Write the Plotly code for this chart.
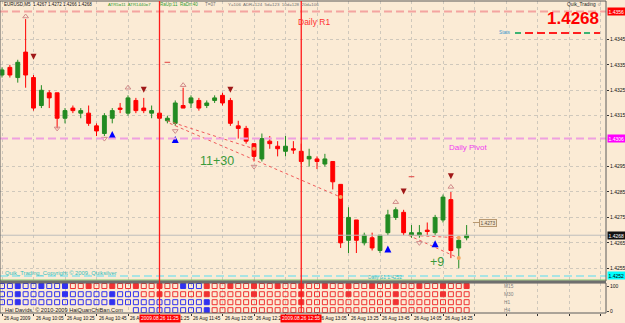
import plotly.graph_objects as go

# ---------------- data ----------------
bar_index = list(range(60))
opens = [1.4331, 1.4334, 1.4330, 1.4340, 1.4330, 1.4319, 1.4324, 1.4324, 1.4314, 1.4318,
         1.4316, 1.4316, 1.4311, 1.4308, 1.4314, 1.43180, 1.4316, 1.4321, 1.4318, 1.4316,
         1.4316, 1.4313, 1.4312, 1.4319, 1.4320, 1.4321, 1.4319, 1.4321, 1.4323, 1.4321,
         1.4311, 1.4310, 1.4304, 1.4298, 1.4305, 1.4303, 1.4301, 1.43020, 1.4301, 1.4298,
         1.4298, 1.4296, 1.4297, 1.4288, 1.4266, 1.4274, 1.4265, 1.4267, 1.4262, 1.4269,
         1.4275, 1.4277, 1.4268, 1.4268, 1.42700, 1.4269, 1.4274, 1.4282, 1.4263, 1.4267]
highs = [1.4334, 1.4335, 1.4337, 1.4353, 1.4331, 1.4327, 1.4325, 1.4324, 1.4318, 1.4319,
         1.4318, 1.4319, 1.4312, 1.4316, 1.4318, 1.4320, 1.4323, 1.4322, 1.4322, 1.4319,
         1.4317, 1.4315, 1.4321, 1.4326, 1.4323, 1.4322, 1.4321, 1.4323, 1.4324, 1.4322,
         1.4313, 1.4311, 1.4304, 1.4308, 1.4307, 1.4305, 1.4307, 1.4305, 1.4304, 1.4302,
         1.4299, 1.4300, 1.4297, 1.4288, 1.4279, 1.4274, 1.4269, 1.4269, 1.4268, 1.4278,
         1.4279, 1.4278, 1.4272, 1.4272, 1.4273, 1.4276, 1.4284, 1.4285, 1.4267, 1.4272]
lows = [1.4330, 1.4330, 1.4328, 1.4326, 1.4317, 1.4318, 1.4318, 1.4310, 1.4312, 1.4316,
        1.4314, 1.4311, 1.4307, 1.4307, 1.4312, 1.4316, 1.4315, 1.4316, 1.4316, 1.4314,
        1.4313, 1.4312, 1.4311, 1.4318, 1.4318, 1.4317, 1.4318, 1.4320, 1.4319, 1.4311,
        1.4306, 1.4304, 1.4297, 1.4297, 1.4302, 1.4299, 1.4299, 1.4300, 1.4296, 1.4295,
        1.4294, 1.4295, 1.4286, 1.4263, 1.4261, 1.4261, 1.4264, 1.4262, 1.4261, 1.4268,
        1.4274, 1.4268, 1.4267, 1.4267, 1.4268, 1.4268, 1.4273, 1.4259, 1.4255, 1.4266]
closes = [1.4333, 1.4331, 1.4336, 1.4331, 1.4318, 1.4325, 1.4322, 1.4314, 1.4317, 1.4317,
          1.4317, 1.4312, 1.4309, 1.4315, 1.4317, 1.43175, 1.4322, 1.4317, 1.4317, 1.4317,
          1.4314, 1.4314, 1.4320, 1.4318, 1.4322, 1.4318, 1.4320, 1.4322, 1.4320, 1.4312,
          1.4310, 1.4305, 1.4299, 1.4306, 1.4304, 1.4302, 1.4303, 1.43015, 1.4297, 1.4299,
          1.4297, 1.4298, 1.4289, 1.4265, 1.4275, 1.4266, 1.4268, 1.4263, 1.4268, 1.4276,
          1.4278, 1.4269, 1.4269, 1.4269, 1.42695, 1.4275, 1.4283, 1.4262, 1.4266, 1.4268]

time_label_bars = [0, 4, 8, 12, 16, 20, 24, 28, 32, 40, 44, 48, 52, 56]
time_labels = ["26 Aug 2009", "26 Aug 10:05", "26 Aug 10:25", "26 Aug 10:45", "26 Aug 11:05",
               "26 Aug 11:25", "26 Aug 11:45", "26 Aug 12:05", "26 Aug 12:25",
               "26 Aug 13:05", "26 Aug 13:25", "26 Aug 13:45", "26 Aug 14:05", "26 Aug 14:25"]
price_ticks = [1.4345, 1.4335, 1.4325, 1.4315, 1.4295, 1.4285, 1.4275, 1.4265, 1.4255]

vline_bars = [20, 38]
vline_labels = ["2009.08.26 11:25", "2009.08.26 12:55"]

daily_r1 = 1.4356
daily_pivot = 1.4306
daily_s_line = 1.4252
bid = 1.4268
price_label_bar = 60.6
price_label_px = 1.4273

fractal_up_bars = [3, 16, 23, 50, 57]
fractal_up_px = [1.4354, 1.4326, 1.4327, 1.4281, 1.4287]
sell_bars = [4, 18, 29, 51, 57]
sell_px = [1.4337, 1.4324, 1.4324, 1.4284, 1.4290]
fractal_dn_bars = [7, 13, 22, 32, 53]
fractal_dn_px = [1.4310, 1.4306, 1.4309, 1.4295, 1.4265]
buy_bars = [14, 22, 49, 55]
buy_px = [1.4309, 1.4307, 1.4264, 1.4266]
dash_bars = [21, 52]
dash_px = [1.4336, 1.4291]

trend_lines = [  # (bar0, price0, bar1, price1)
    (21, 1.4313, 32, 1.4302),
    (21.3, 1.4312, 43, 1.4283),
    (51.6, 1.4268, 58, 1.4267),
    (51.6, 1.4268, 58, 1.4259),
]
trade_labels = ["11+30", "+9"]
trade_label_bars = [27.3, 55.2]
trade_label_px = [1.42972, 1.42575]

# MTF square indicator (M15, M30, H1, H4)
mtf_names = ["M15", "M30", "H1", "H4"]
mtf_colors = [
    "BBBBBBBBBRRRRRRRRRRRRRRBBBRRRRRRRRRRRRRRRRRRRRRRRRRRRRRRRRRR",
    "BBBBBBBBBBBBBBBBBBRRRRRRRRRRRRRRRRRRRRRRRRRRRRRRRRRRRRRRRRRR",
    "BBBBBBBBBBBBBBBBBBBBBBBBBBBRRRRRRRRRRRRRRRRRRRRRRRRRRRRRRRRR",
    "BBBBBBBBBBBBBBBBBBBBBBBBBBBRRRRRRRRRRRRRRRRRRRRRRRRRRRRRRRRR",
]
mtf_filled = [
    [2, 5, 8, 11, 14, 17, 20, 23, 26, 29, 32, 35, 38, 41, 44, 47, 50, 53, 56, 59],
    [2, 8, 14, 20, 26, 32, 38, 44, 50, 56],
    [2, 14, 26, 38, 50],
    [26],
]
mtf_first_bar = [0, 0, 0, 17]

# ---------------- figure ----------------
W, H = 625, 323
ML, MR, MT, MB = 0, 19, 1, 10
PW, PH = W - ML - MR, H - MT - MB
BAR_PX = 7.875
X0 = 2.0
xr = [(0 - X0) / BAR_PX, (PW - X0) / BAR_PX]
MAIN_BOTTOM_PX = 281
IND_TOP_PX = 283


def pfy(ypx):  # pixel y -> paper y
    return (H - MB - ypx) / PH


def pfx(xpx):
    return xpx / PW


BG = "#FBEBD5"
GRID = "#CFC8BC"
FONT = "Liberation Sans, Arial, sans-serif"

fig = go.Figure()

fig.add_trace(go.Candlestick(
    x=bar_index, open=opens, high=highs, low=lows, close=closes,
    increasing=dict(line=dict(color="#228B22", width=1), fillcolor="#228B22"),
    decreasing=dict(line=dict(color="#FF0000", width=1), fillcolor="#FF0000"),
    whiskerwidth=0, showlegend=False, hoverinfo="skip", xaxis="x", yaxis="y"))

# trend lines
for (b0, p0, b1, p1) in trend_lines:
    fig.add_trace(go.Scatter(x=[b0, b1], y=[p0, p1], mode="lines",
                             line=dict(color="#F05A5A", width=1, dash="dot"),
                             showlegend=False, hoverinfo="skip"))
fig.add_trace(go.Scatter(x=[t[2] for t in trend_lines], y=[t[3] for t in trend_lines],
                         mode="markers", marker=dict(symbol="circle", size=4, color="#F2A860"),
                         showlegend=False, hoverinfo="skip"))

# signal markers
fig.add_trace(go.Scatter(x=fractal_up_bars, y=fractal_up_px, mode="markers",
                         marker=dict(symbol="triangle-up-open", size=5, color="#D08A8A", line=dict(width=1)),
                         showlegend=False, hoverinfo="skip"))
fig.add_trace(go.Scatter(x=fractal_dn_bars, y=fractal_dn_px, mode="markers",
                         marker=dict(symbol="triangle-down-open", size=5, color="#D08A8A", line=dict(width=1)),
                         showlegend=False, hoverinfo="skip"))
fig.add_trace(go.Scatter(x=sell_bars, y=sell_px, mode="markers",
                         marker=dict(symbol="arrow-down", size=6, color="#A01818"),
                         showlegend=False, hoverinfo="skip"))
fig.add_trace(go.Scatter(x=buy_bars, y=buy_px, mode="markers",
                         marker=dict(symbol="arrow-up", size=7, color="#0000FF"),
                         showlegend=False, hoverinfo="skip"))
fig.add_trace(go.Scatter(x=dash_bars, y=dash_px, mode="markers",
                         marker=dict(symbol="line-ew", size=4, line=dict(color="#E04040", width=1)),
                         showlegend=False, hoverinfo="skip"))
# price label leader line
fig.add_trace(go.Scatter(x=[price_label_bar - 0.8, price_label_bar], y=[price_label_px, price_label_px],
                         mode="lines", line=dict(color="#B89870", width=1),
                         showlegend=False, hoverinfo="skip"))

# MTF squares
ind_rows = [100, 68, 37, 6]
for r in range(4):
    xs, ys, cols, syms = [], [], [], []
    for b in bar_index:
        if b < mtf_first_bar[r]:
            continue
        xs.append(b)
        ys.append(ind_rows[r])
        cols.append("#3232F0" if mtf_colors[r][b] == "B" else "#F03232")
        syms.append("square" if b in mtf_filled[r] else "square-open")
    fig.add_trace(go.Scatter(x=xs, y=ys, mode="markers", xaxis="x", yaxis="y2",
                             marker=dict(symbol=syms, size=5, color=cols, line=dict(width=1, color=cols)),
                             showlegend=False, hoverinfo="skip"))

shapes = []
# horizontal level lines
shapes.append(dict(type="line", xref="paper", x0=0, x1=1, yref="y", y0=daily_r1, y1=daily_r1,
                   line=dict(color="#F4A4A0", width=2, dash="8px,4px")))
shapes.append(dict(type="line", xref="paper", x0=0, x1=1, yref="y", y0=daily_pivot, y1=daily_pivot,
                   line=dict(color="#EFA0E0", width=2, dash="8px,4px")))
shapes.append(dict(type="line", xref="paper", x0=0, x1=1, yref="y", y0=bid, y1=bid,
                   line=dict(color="#BDBDBD", width=1)))
shapes.append(dict(type="line", xref="paper", x0=0, x1=1, yref="y", y0=daily_s_line, y1=daily_s_line,
                   line=dict(color="#A8E4E4", width=2, dash="8px,4px")))
shapes.append(dict(type="line", xref="paper", x0=0, x1=1, yref="paper", y0=pfy(280), y1=pfy(280),
                   line=dict(color="#7CCB6C", width=1)))
# frames
shapes.append(dict(type="rect", xref="paper", yref="paper", x0=0, x1=1, y0=pfy(MAIN_BOTTOM_PX), y1=1,
                   line=dict(color="#5A5A5A", width=1), fillcolor="rgba(0,0,0,0)"))
shapes.append(dict(type="rect", xref="paper", yref="paper", x0=0, x1=1, y0=0, y1=pfy(IND_TOP_PX),
                   line=dict(color="#5A5A5A", width=1), fillcolor="rgba(0,0,0,0)"))
shapes.append(dict(type="line", xref="paper", yref="paper", x0=0, x1=1, y0=pfy(282), y1=pfy(282),
                   line=dict(color="#6E6E6E", width=2)))
# vertical red lines (drawn last, on top)
for b in vline_bars:
    shapes.append(dict(type="line", xref="x", x0=b, x1=b, yref="paper", y0=0, y1=1,
                       line=dict(color="#FF1A1A", width=1.3)))
# Stats legend dashes
stats_dashes = [(515, 521, "#3CB371"), (525, 533, "#FF2020"), (537, 545, "#FF2020"), (549, 557, "#FF2020"),
                (561, 569, "#FF2020"), (573, 581, "#FF2020"), (584, 590, "#3CB371"), (594, 600, "#FF2020")]
for (a, b, c) in stats_dashes:
    shapes.append(dict(type="line", xref="paper", yref="paper", x0=pfx(a), x1=pfx(b), y0=pfy(33), y1=pfy(33),
                       line=dict(color=c, width=2)))

ann = []


def txt(xpx, ypx, text, size, color, anchor="left", bold=False):
    ann.append(dict(xref="paper", yref="paper", x=pfx(xpx), y=pfy(ypx), text=("<b>%s</b>" % text) if bold else text,
                    showarrow=False, xanchor=anchor, yanchor="middle",
                    font=dict(family=FONT, size=size, color=color)))


i = len(closes) - 1
txt(2, 5, "EURUSD,M5  %.4f %.4f %.4f %.4f" % (opens[i], highs[i], lows[i], closes[i]), 4.5, "#111111")
txt(106, 5, "ATR5=11  ATR1440=7", 4.3, "#2E9B2E")
txt(158, 5, "RaUp:11  RaDn:40", 4.5, "#2E9B2E")
txt(203, 5, "T=07", 4.5, "#707070")
txt(226, 5, "Y=106  ADR=124  5d=123  10d=128  20d=106", 4.4, "#707070")
txt(604, 5, "Quik_Trading ☺", 4.8, "#222222", anchor="right")
txt(601, 18, "%.4f" % closes[i], 17, "#FF0000", anchor="right", bold=True)
txt(513, 33, "Stats", 4.8, "#3A9AD0", anchor="right")
txt(3, 273, "Quik_Trading_Copyright © 2009, Quiksilver", 5.8, "#33BDBD")
txt(366, 277, "Daily S1 1.4252", 4.8, "#33BDBD")
txt(3, 310, "Hai Davids, © 2010-2009 HaiQuanChiBan.Com", 5.6, "#222222")

ann.append(dict(xref="x", yref="y", x=vline_bars[1] - 0.7, y=daily_r1, yshift=-4, text="Daily R1",
                showarrow=False, xanchor="left", yanchor="top", font=dict(family=FONT, size=8.5, color="#FF3030")))
ann.append(dict(xref="paper", yref="y", x=pfx(447), y=daily_pivot, yshift=-2, text="Daily Pivot",
                showarrow=False, xanchor="left", yanchor="top", font=dict(family=FONT, size=8, color="#F040F0")))
for t, b, p in zip(trade_labels, trade_label_bars, trade_label_px):
    ann.append(dict(xref="x", yref="y", x=b, y=p, text=t, showarrow=False,
                    font=dict(family=FONT, size=12.5, color="#3A9A3A")))
ann.append(dict(xref="x", yref="y", x=price_label_bar, y=price_label_px, text="%.4f" % price_label_px,
                showarrow=False, xanchor="left", yanchor="middle", bgcolor="#F3E2C8",
                bordercolor="#B89870", borderwidth=1, borderpad=0.5,
                font=dict(family=FONT, size=4.8, color="#5A4A3A")))

# MTF labels
for r in range(4):
    ann.append(dict(xref="paper", yref="y2", x=pfx(502), y=ind_rows[r], text=mtf_names[r], showarrow=False,
                    xanchor="left", font=dict(family=FONT, size=4.8, color="#808080")))

# time labels
for b, t in zip(time_label_bars, time_labels):
    ann.append(dict(xref="x", yref="paper", x=b, xshift=0, y=0, yshift=-1, text=t, showarrow=False,
                    xanchor="left", yanchor="top", font=dict(family=FONT, size=4.7, color="#111111")))
for b, t in zip(vline_bars, vline_labels):
    ann.append(dict(xref="x", yref="paper", x=b, y=0, yshift=-1, text=t, showarrow=False,
                    xanchor="center", yanchor="top", bgcolor="#FF0000", borderpad=1,
                    font=dict(family=FONT, size=4.9, color="#FFFFFF")))

# axis price boxes
for p, c, fc in [(daily_r1, "#FF0000", "#FFFFFF"), (daily_pivot, "#FF00FF", "#FFFFFF"),
                 (bid, "#111111", "#FFFFFF"), (daily_s_line, "#00FFFF", "#000000")]:
    ann.append(dict(xref="paper", yref="y", x=1, xshift=1, y=p, text="%.4f" % p, showarrow=False,
                    xanchor="left", yanchor="middle", bgcolor=c, borderpad=0.5,
                    font=dict(family=FONT, size=5, color=fc)))

fig.update_layout(
    width=W, height=H, margin=dict(l=ML, r=MR, t=MT, b=MB),
    paper_bgcolor=BG, plot_bgcolor=BG, showlegend=False,
    shapes=shapes, annotations=ann,
    xaxis=dict(domain=[0, 1], range=xr, anchor="y2", rangeslider=dict(visible=False),
               tickvals=list(range(0, 80, 4)), showticklabels=False, ticks="outside", ticklen=2,
               tickcolor="#333333", showgrid=True, gridcolor=GRID, griddash="dot", gridwidth=1,
               zeroline=False, showline=False, fixedrange=True),
    yaxis=dict(domain=[pfy(MAIN_BOTTOM_PX), 1], range=[1.42500, 1.43601], side="right",
               tickvals=price_ticks, ticktext=["%.4f" % v for v in price_ticks],
               tickfont=dict(family=FONT, size=5, color="#111111"), ticks="outside", ticklen=2,
               tickcolor="#333333", showgrid=True, gridcolor=GRID, griddash="dot",
               zeroline=False, showline=False),
    yaxis2=dict(domain=[0, pfy(IND_TOP_PX)], range=[-5, 111.7], side="right",
                tickvals=[0, 100], ticktext=["0", "100"], ticks="outside", ticklen=2,
                tickfont=dict(family=FONT, size=5, color="#111111"), showgrid=False,
                zeroline=False, showline=False),
)

fig.write_html("out.html", post_script="document.body.style.margin='0';")
